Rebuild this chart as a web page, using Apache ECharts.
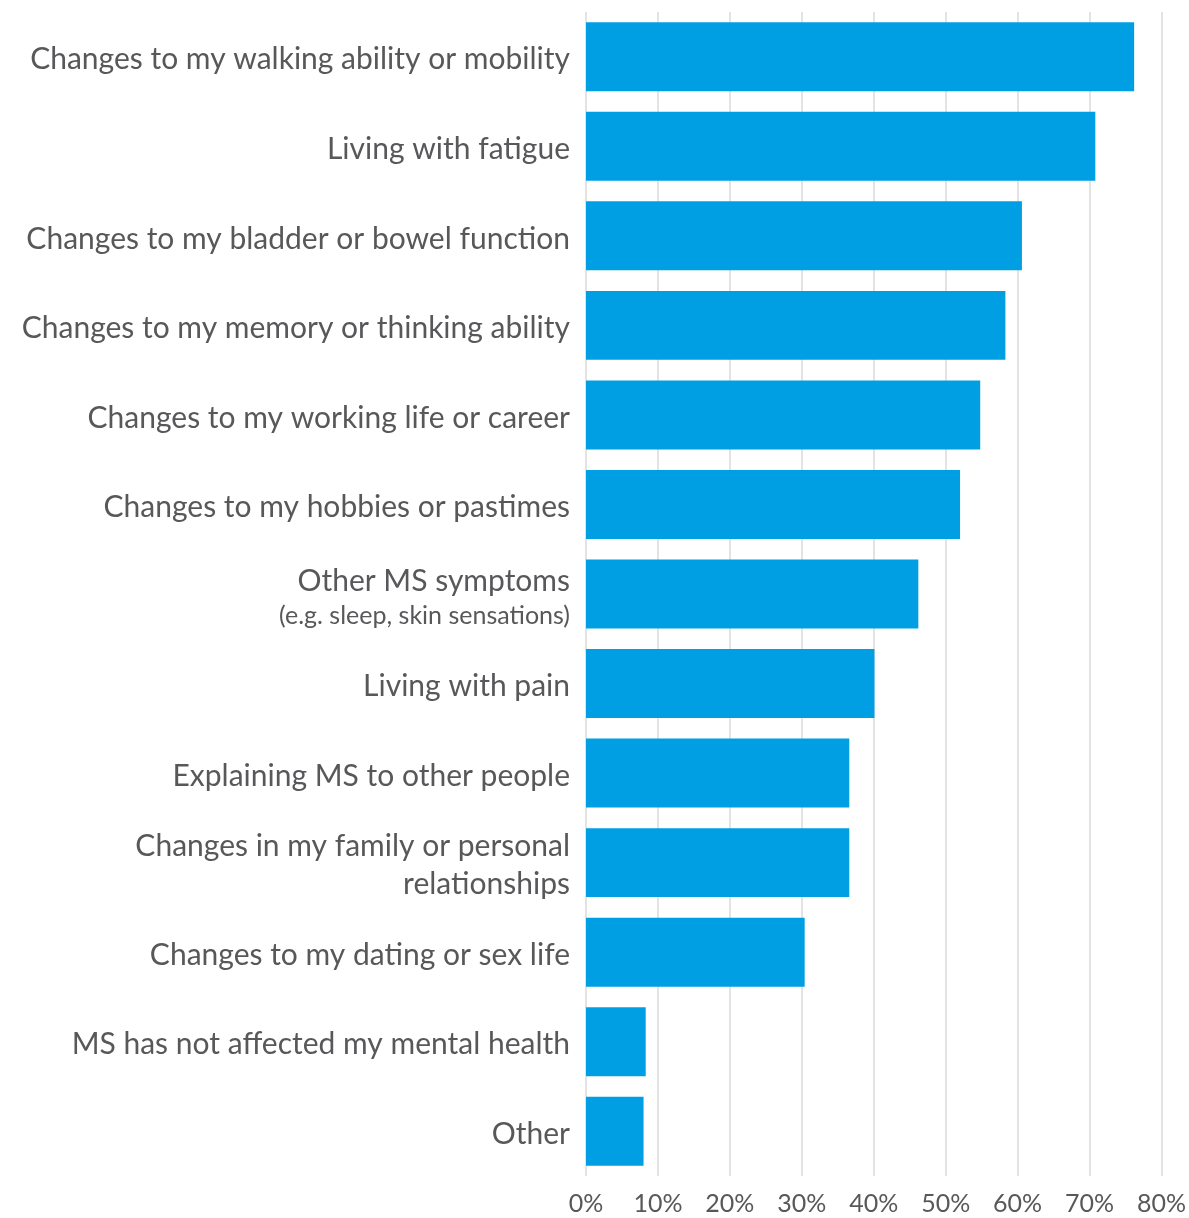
<!DOCTYPE html>
<html>
<head>
<meta charset="utf-8">
<script src="https://cdn.jsdelivr.net/npm/echarts@6/dist/echarts.min.js"></script>
<style>
  html, body { margin: 0; padding: 0; background: #ffffff; }
  #chart { width: 1189px; height: 1218px; }
</style>
</head>
<body>
<div id="chart"></div>
<script>
// Ways MS has affected mental health, share of respondents (%)
const categories = [
  'Changes to my walking ability or mobility',
  'Living with fatigue',
  'Changes to my bladder or bowel function',
  'Changes to my memory or thinking ability',
  'Changes to my working life or career',
  'Changes to my hobbies or pastimes',
  'Other MS symptoms\n{sub|(e.g. sleep, skin sensations)}',
  'Living with pain',
  'Explaining MS to other people',
  'Changes in my family or personal\nrelationships',
  'Changes to my dating or sex life',
  'MS has not affected my mental health',
  'Other'
];
const values = [76.2, 70.8, 60.6, 58.3, 54.8, 52.0, 46.2, 40.1, 36.6, 36.6, 30.4, 8.3, 8.0];
const axisMin = 0;
const axisMax = 80;
const axisStep = 10;

const FONT = 'Lato';
const TEXT = '#58585b';

const chart = echarts.init(document.getElementById('chart'), null, { renderer: 'canvas' });
chart.setOption({
  animation: false,
  grid: { left: 586, right: 27, top: 12, bottom: 42, containLabel: false },
  xAxis: {
    type: 'value',
    min: axisMin,
    max: axisMax,
    interval: axisStep,
    axisLine: { show: false },
    axisTick: { show: false },
    splitLine: { show: true, lineStyle: { color: '#e3e3e3', width: 2 } },
    axisLabel: {
      formatter: v => v + '%',
      color: TEXT,
      fontFamily: FONT,
      fontSize: 25,
      margin: 15
    }
  },
  yAxis: {
    type: 'category',
    inverse: true,
    data: categories,
    axisLine: { show: false },
    axisTick: { show: false },
    axisLabel: {
      color: TEXT,
      fontFamily: FONT,
      fontSize: 30,
      lineHeight: 38,
      margin: 16,
      align: 'right',
      padding: [6, 0, 0, 0],
      rich: {
        sub: { fontFamily: FONT, fontSize: 25, color: TEXT, lineHeight: 32 }
      }
    }
  },
  series: [{
    type: 'bar',
    data: values,
    barCategoryGap: '23%',
    itemStyle: { color: '#009fe3' }
  }]
});
</script>
</body>
</html>
